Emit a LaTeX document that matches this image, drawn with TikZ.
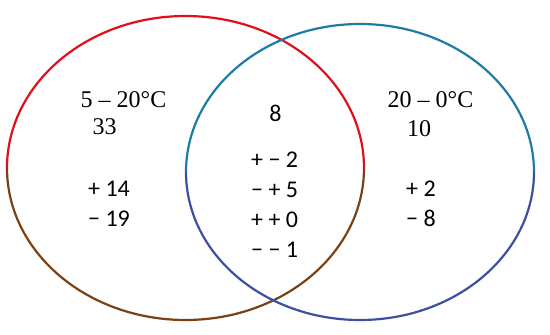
\documentclass[tikz,border=0pt]{standalone}
\usepackage{fontspec}
\setmainfont{Liberation Serif}
\newfontfamily\calfont{Carlito}
\definecolor{lred}{HTML}{E0101A}
\definecolor{lbrown}{HTML}{7A4214}
\definecolor{rteal}{HTML}{1E7BA3}
\definecolor{rblue}{HTML}{3D4FA0}
\begin{document}
\begin{tikzpicture}[x=1pt,y=-1pt,
  ring/.style={line width=2.2pt},
  serif/.style={font=\fontsize{24}{28}\selectfont, inner sep=0pt, anchor=base},
  sans/.style={font=\calfont\fontsize{24}{28}\selectfont, inner sep=0pt, anchor=base},
  sansl/.style={sans, anchor=base west}]
\useasboundingbox (0,0) rectangle (550,335);
% centres
\coordinate (cl) at (185.5,168);
\coordinate (cr) at (360,172);
% left ellipse: red upper half, brown lower half
\draw[ring, lred] (cl) ++(178.5,0) arc[start angle=360, end angle=180, x radius=178.5, y radius=152];
\draw[ring, lbrown] (cl) ++(178.5,0) arc[start angle=0, end angle=180, x radius=178.5, y radius=152];
% right ellipse: teal upper half, blue lower half
\draw[ring, rteal] (cr) ++(174,0) arc[start angle=360, end angle=180, x radius=174, y radius=148];
\draw[ring, rblue] (cr) ++(174,0) arc[start angle=0, end angle=180, x radius=174, y radius=148];
% left texts
\node[serif] (lt) at (123.5,107) {5 – 20°C};
\node[serif] (ln) at (104.5,134) {33};
\node[sansl] (l1) at (88,196) {+ 14};
\node[sansl] (l2) at (88,226) {− 19};
% middle texts
\node[sans] (m0) at (275.5,121) {8};
\node[sansl] (m1) at (251,167) {+ − 2};
\node[sansl] (m2) at (251,197) {− + 5};
\node[sansl] (m3) at (251,227) {+ + 0};
\node[sansl] (m4) at (251,257) {− − 1};
% right texts
\node[serif] (rt) at (430.5,107) {20 – 0°C};
\node[serif] (rn) at (419,136) {10};
\node[sansl] (r1) at (406,196) {+ 2};
\node[sansl] (r2) at (406,226) {− 8};
\end{tikzpicture}
\end{document}
